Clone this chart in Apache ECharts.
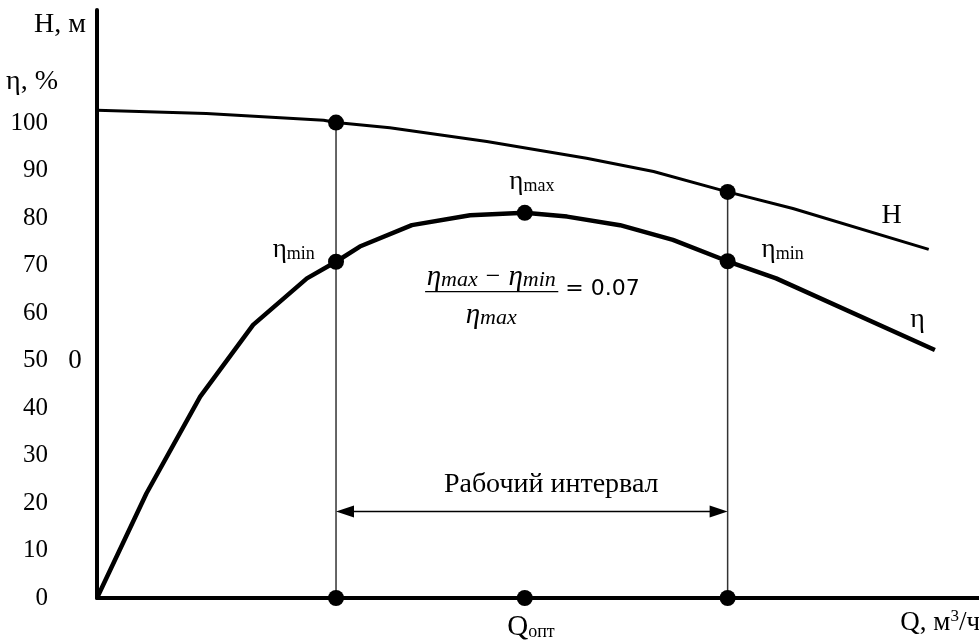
<!DOCTYPE html>
<html>
<head>
<meta charset="utf-8">
<script src="https://cdn.jsdelivr.net/npm/echarts@6/dist/echarts.min.js"></script>
<style>
  html, body { margin: 0; padding: 0; background: #fff; }
  #chart { width: 979px; height: 642px; }
</style>
</head>
<body>
<div id="chart"></div>
<script>
// Pump characteristic: head H and efficiency η versus flow Q
const qHead   = [0, 12.4, 25.7, 27.1, 33.2, 44.2, 55.5, 63.1, 71.5, 78.9, 94.3];
const headH   = [102.7, 102.0, 100.6, 100.1, 99.0, 96.1, 92.6, 89.8, 85.5, 82.0, 73.4];

const qEta    = [0, 5.6, 11.7, 17.7, 23.8, 27.1, 29.8, 35.7, 42.3, 48.5, 53.3, 59.3, 65.3, 71.5, 77.0, 95.0];
const etaVals = [0, 22.0, 42.4, 57.5, 67.3, 70.8, 74.0, 78.5, 80.6, 81.1, 80.3, 78.5, 75.4, 70.9, 67.3, 52.2];

// Working interval bounds and optimum flow
const qMin = 27.1, qOpt = 48.5, qMax = 71.5;
const etaAtMin = 70.8, etaAtOpt = 81.1, etaAtMax = 70.9;
const headAtMin = 100.1, headAtMax = 85.5;
const intervalLevel = 18.2;

const yTicks = [0, 10, 20, 30, 40, 50, 60, 70, 80, 90, 100];

const SERIF = '"Liberation Serif", "Times New Roman", serif';

const zip = (xs, ys) => xs.map((x, i) => [x, ys[i]]);

const chart = echarts.init(document.getElementById('chart'), null, { renderer: 'canvas' });

const option = {
  animation: false,
  backgroundColor: '#fff',
  grid: { left: 97, right: 0, top: 10, bottom: 44, containLabel: false },
  xAxis: {
    type: 'value', min: 0, max: 100,
    axisLine: { show: true, onZero: false, lineStyle: { color: '#000', width: 4 } },
    axisTick: { show: false }, axisLabel: { show: false }, splitLine: { show: false }
  },
  yAxis: {
    type: 'value', min: 0, max: 123.8, interval: 10,
    axisLine: { show: true, onZero: false, lineStyle: { color: '#000', width: 4 } },
    axisTick: { show: false }, splitLine: { show: false },
    axisLabel: {
      show: true, margin: 49, color: '#000', fontFamily: SERIF, fontSize: 25,
      formatter: v => (yTicks.indexOf(v) >= 0 ? String(v) : '')
    }
  },
  series: [
    {
      name: 'H', type: 'line', data: zip(qHead, headH), showSymbol: false, symbol: 'none',
      lineStyle: { color: '#000', width: 3 }, z: 3
    },
    {
      name: 'η', type: 'line', data: zip(qEta, etaVals), showSymbol: false, symbol: 'none',
      lineStyle: { color: '#000', width: 4.5 }, z: 3
    },
    {
      name: 'left bound', type: 'line', data: [[qMin, 0], [qMin, headAtMin]], symbol: 'none',
      lineStyle: { color: '#333', width: 1.5 }, z: 2
    },
    {
      name: 'right bound', type: 'line', data: [[qMax, 0], [qMax, headAtMax]], symbol: 'none',
      lineStyle: { color: '#333', width: 1.5 }, z: 2
    },
    {
      name: 'points', type: 'scatter', symbol: 'circle', symbolSize: 16,
      itemStyle: { color: '#000', opacity: 1 }, z: 5,
      data: [
        [qMin, headAtMin], [qMax, headAtMax],
        [qMin, etaAtMin], [qOpt, etaAtOpt], [qMax, etaAtMax],
        [qMin, 0], [qOpt, 0], [qMax, 0]
      ]
    }
  ]
};

chart.setOption(option);

const px = (q, v) => chart.convertToPixel({ gridIndex: 0 }, [q, v]);

const etaRich = {
  e: { fontFamily: SERIF, fontSize: 27, color: '#000' },
  s: { fontFamily: SERIF, fontSize: 18, color: '#000', padding: [9, 0, 0, 0] }
};

function txt(pos, text, align, vAlign, extra) {
  return {
    type: 'text', x: pos[0], y: pos[1], z: 10,
    style: Object.assign({
      text: text, fill: '#000', font: '28px ' + SERIF,
      align: align, verticalAlign: vAlign
    }, extra || {})
  };
}

function etaLabel(pos, sub, align) {
  return {
    type: 'text', x: pos[0], y: pos[1], z: 10,
    style: {
      text: '{e|η}{s|' + sub + '}', align: align, verticalAlign: 'middle',
      rich: etaRich
    }
  };
}

// double-headed arrow spanning the working interval
const arrA = px(qMin, intervalLevel), arrB = px(qMax, intervalLevel);
const headLen = 18, headHalf = 6;

const fracLeft = px(37.2, 64.5), fracRight = px(52.3, 64.5);
const mathRich = {
  e: { fontFamily: SERIF, fontStyle: 'italic', fontSize: 29, color: '#000' },
  s: { fontFamily: SERIF, fontStyle: 'italic', fontSize: 22, color: '#000', padding: [7, 0, 0, 0] },
  o: { fontFamily: SERIF, fontSize: 26, color: '#000', padding: [0, 8, 0, 8] }
};

const graphics = [
  // axis titles
  txt([86, 25], 'H, м', 'right', 'middle'),
  txt([58, 82], 'η, %', 'right', 'middle'),
  txt([75, px(0, 50)[1]], '0', 'center', 'middle', { font: '27px ' + SERIF }),

  // curve annotations
  etaLabel(px(24.7, 73.3), 'min', 'right'),
  etaLabel(px(49.3, 87.6), 'max', 'center'),
  etaLabel(px(75.35, 73.3), 'min', 'left'),
  txt(px(88.95, 80.4), 'H', 'left', 'middle'),
  txt(px(92.2, 58.6), 'η', 'left', 'middle'),

  // working interval caption and arrow
  txt(px(51.5, 23.8), 'Рабочий интервал', 'center', 'middle'),
  {
    type: 'line', z: 6,
    shape: { x1: arrA[0] + headLen - 2, y1: arrA[1], x2: arrB[0] - headLen + 2, y2: arrB[1] },
    style: { stroke: '#000', lineWidth: 1.5 }
  },
  {
    type: 'polygon', z: 6,
    shape: { points: [[arrA[0], arrA[1]], [arrA[0] + headLen, arrA[1] - headHalf], [arrA[0] + headLen, arrA[1] + headHalf]] },
    style: { fill: '#000' }
  },
  {
    type: 'polygon', z: 6,
    shape: { points: [[arrB[0], arrB[1]], [arrB[0] - headLen, arrB[1] - headHalf], [arrB[0] - headLen, arrB[1] + headHalf]] },
    style: { fill: '#000' }
  },

  // efficiency-drop formula
  {
    type: 'text', x: px(44.7, 67.6)[0], y: px(44.7, 67.6)[1], z: 10,
    style: { text: '{e|η}{s|max}{o|−}{e|η}{s|min}', align: 'center', verticalAlign: 'middle', rich: mathRich }
  },
  {
    type: 'line', z: 10,
    shape: { x1: fracLeft[0], y1: fracLeft[1], x2: fracRight[0], y2: fracRight[1] },
    style: { stroke: '#000', lineWidth: 1.2 }
  },
  {
    type: 'text', x: px(44.7, 59.6)[0], y: px(44.7, 59.6)[1], z: 10,
    style: { text: '{e|η}{s|max}', align: 'center', verticalAlign: 'middle', rich: mathRich }
  },
  txt(px(53.1, 65.1), '= 0.07', 'left', 'middle', { font: '22px "DejaVu Sans", sans-serif' }),

  // x axis captions
  {
    type: 'text', x: px(49.2, -6.1)[0], y: px(49.2, -6.1)[1], z: 10,
    style: {
      text: '{q|Q}{s|опт}', align: 'center', verticalAlign: 'middle',
      rich: {
        q: { fontFamily: SERIF, fontSize: 29, color: '#000' },
        s: { fontFamily: SERIF, fontSize: 18, color: '#000', padding: [10, 0, 0, 0] }
      }
    }
  },
  {
    type: 'text', x: 980, y: 623, z: 10,
    style: {
      text: '{a|Q, м}{p|3}{a|/ч}', align: 'right', verticalAlign: 'middle',
      rich: {
        a: { fontFamily: SERIF, fontSize: 27, color: '#000' },
        p: { fontFamily: SERIF, fontSize: 17, color: '#000', padding: [0, 0, 13, 0] }
      }
    }
  }
];

chart.setOption({ graphic: graphics });
</script>
</body>
</html>
